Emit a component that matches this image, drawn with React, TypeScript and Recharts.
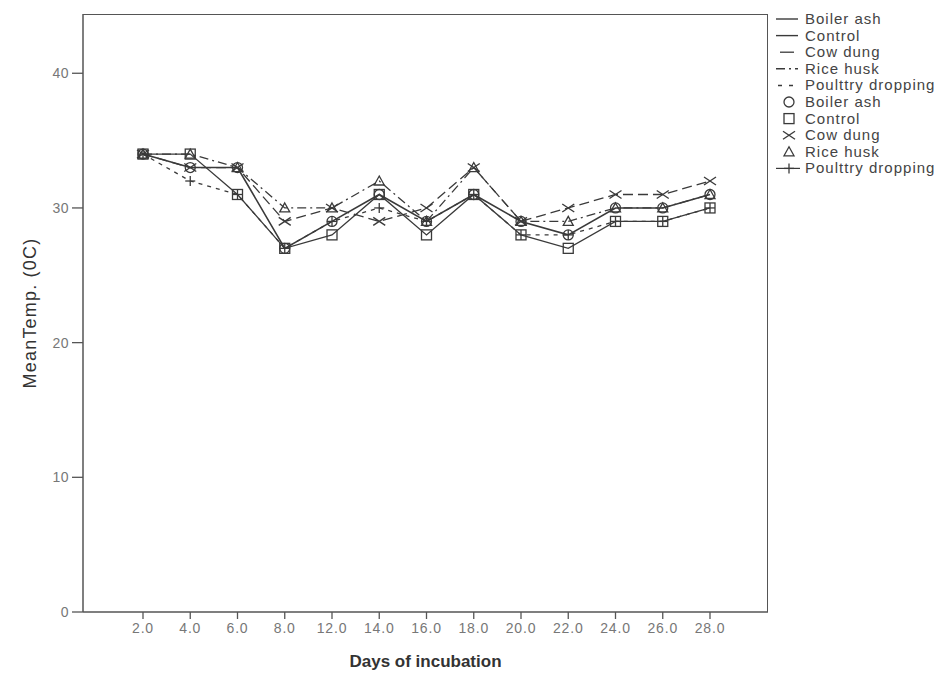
import React from 'react';
import { LineChart, Line, XAxis, YAxis } from 'recharts';

const days = ['2.0', '4.0', '6.0', '8.0', '12.0', '14.0', '16.0', '18.0', '20.0', '22.0', '24.0', '26.0', '28.0'];
const boilerAsh = [34, 33, 33, 27, 29, 31, 29, 31, 29, 28, 30, 30, 31];
const control = [34, 34, 31, 27, 28, 31, 28, 31, 28, 27, 29, 29, 30];
const cowDung = [34, 33, 33, 29, 30, 29, 30, 33, 29, 30, 31, 31, 32];
const riceHusk = [34, 34, 33, 30, 30, 32, 29, 33, 29, 29, 30, 30, 31];
const poultry = [34, 32, 31, 27, 29, 30, 29, 31, 28, 28, 29, 29, 30];
const yTicks = [0, 10, 20, 30, 40];

const lineNames = ['Boiler ash', 'Control', 'Cow dung', 'Rice husk', 'Poulttry dropping'];
const markerNames = ['Boiler ash', 'Control', 'Cow dung', 'Rice husk', 'Poulttry dropping'];

const data = days.map((d, i) => ({
  day: d,
  boilerAsh: boilerAsh[i],
  control: control[i],
  cowDung: cowDung[i],
  riceHusk: riceHusk[i],
  poultry: poultry[i],
}));

const INK = '#3a3a3a';
const FONT = '"Liberation Sans", Arial, sans-serif';

type Shape = 'circle' | 'square' | 'x' | 'triangle' | 'plus';

function Marker({ shape, cx, cy }: { shape: Shape; cx: number; cy: number }) {
  const s = 5;
  const common = { stroke: INK, strokeWidth: 1.3, fill: 'none' };
  if (shape === 'circle') return <circle cx={cx} cy={cy} r={s} {...common} />;
  if (shape === 'square') return <rect x={cx - s} y={cy - s} width={2 * s} height={2 * s} {...common} />;
  if (shape === 'x')
    return (
      <g {...common}>
        <line x1={cx - 6} y1={cy - 4} x2={cx + 6} y2={cy + 4} />
        <line x1={cx - 6} y1={cy + 4} x2={cx + 6} y2={cy - 4} />
      </g>
    );
  if (shape === 'triangle')
    return <polygon points={`${cx},${cy - 5} ${cx + 5},${cy + 4} ${cx - 5},${cy + 4}`} {...common} />;
  return (
    <g {...common}>
      <line x1={cx - 5} y1={cy} x2={cx + 5} y2={cy} />
      <line x1={cx} y1={cy - 5} x2={cx} y2={cy + 5} />
    </g>
  );
}

const makeDot = (shape: Shape) => (props: any) => {
  const { cx, cy, index } = props;
  if (cx == null || cy == null) return <g key={`${shape}-${index}`} />;
  return (
    <g key={`${shape}-${index}`}>
      <Marker shape={shape} cx={cx} cy={cy} />
    </g>
  );
};

const series: { key: string; dash?: string; width: number; shape: Shape }[] = [
  { key: 'boilerAsh', width: 1.6, shape: 'circle' },
  { key: 'control', width: 1.3, shape: 'square' },
  { key: 'cowDung', dash: '10 5', width: 1.3, shape: 'x' },
  { key: 'riceHusk', dash: '9 4 2 4', width: 1.3, shape: 'triangle' },
  { key: 'poultry', dash: '4 5', width: 1.3, shape: 'plus' },
];

const lineDashes = [undefined, undefined, '10 5', '9 4 2 4', '4 5'];
const shapes: Shape[] = ['circle', 'square', 'x', 'triangle', 'plus'];

function LegendBox() {
  const rowY = (i: number) => 11 + i * 16.6;
  return (
    <svg width={190} height={180} style={{ position: 'absolute', left: 760, top: 0 }}>
      {lineNames.map((n, i) => (
        <g key={`l${i}`}>
          {i === 2 ? (
            <line x1={12} y1={rowY(i)} x2={26} y2={rowY(i)} stroke={INK} strokeWidth={1.3} />
          ) : i === 4 ? (
            <line x1={10} y1={rowY(i)} x2={30} y2={rowY(i)} stroke={INK} strokeWidth={1.5} strokeDasharray="4 7" />
          ) : (
            <line x1={8} y1={rowY(i)} x2={30} y2={rowY(i)} stroke={INK} strokeWidth={1.4} strokeDasharray={lineDashes[i]} />
          )}
          <text x={37} y={rowY(i) + 5} fontSize={15} fill="#444" fontFamily={FONT} letterSpacing={1}>
            {n}
          </text>
        </g>
      ))}
      {markerNames.map((n, j) => {
        const i = j + 5;
        return (
          <g key={`m${j}`}>
            {j === 4 && <line x1={8} y1={rowY(i)} x2={32} y2={rowY(i)} stroke={INK} strokeWidth={1.2} />}
            <Marker shape={shapes[j]} cx={21} cy={rowY(i)} />
            <text x={37} y={rowY(i) + 5} fontSize={15} fill="#444" fontFamily={FONT} letterSpacing={1}>
              {n}
            </text>
          </g>
        );
      })}
    </svg>
  );
}

export default function App() {
  return (
    <div style={{ position: 'relative', width: 943, height: 672, background: '#fff', fontFamily: FONT }}>
      <LineChart width={943} height={672} data={data} margin={{ top: 6, right: 183, left: 0, bottom: 0 }}>
        <XAxis
          dataKey="day"
          padding={{ left: 60, right: 58 }}
          height={68}
          tickSize={7}
          tickMargin={4}
          axisLine={{ stroke: '#555', strokeWidth: 1.5 }}
          tickLine={{ stroke: '#555', strokeWidth: 1.3 }}
          tick={{ fill: '#777', fontSize: 14, fontFamily: FONT, letterSpacing: 0.8 }}
          interval={0}
          label={{
            content: (p: any) => {
              const vb = p.viewBox;
              return (
                <text
                  x={vb.x + vb.width / 2}
                  y={vb.y + 55}
                  textAnchor="middle"
                  fontSize={17}
                  fontWeight="bold"
                  fill="#333"
                  fontFamily={FONT}
                >
                  Days of incubation
                </text>
              );
            },
          }}
        />
        <YAxis
          domain={[0, 44.4]}
          ticks={yTicks}
          width={75}
          tickSize={11}
          tickMargin={3}
          axisLine={{ stroke: '#555', strokeWidth: 1.5 }}
          tickLine={{ stroke: '#555', strokeWidth: 1.3 }}
          tick={{ fill: '#777', fontSize: 14, fontFamily: FONT, letterSpacing: 0.5 }}
          label={{
            content: (p: any) => {
              const vb = p.viewBox;
              const cx = 22;
              const cy = vb.y + vb.height / 2;
              return (
                <text
                  x={cx}
                  y={cy}
                  transform={`rotate(-90 ${cx} ${cy})`}
                  textAnchor="middle"
                  dominantBaseline="central"
                  fontSize={18}
                  fill="#333"
                  fontFamily={FONT}
                  letterSpacing={1.2}
                >
                  MeanTemp. (0C)
                </text>
              );
            },
          }}
        />
        {series.map((s) => (
          <Line
            key={s.key}
            dataKey={s.key}
            type="linear"
            stroke={INK}
            strokeWidth={s.width}
            strokeDasharray={s.dash}
            dot={makeDot(s.shape)}
            activeDot={false}
            isAnimationActive={false}
          />
        ))}
      </LineChart>
      <div
        style={{
          position: 'absolute',
          left: 75,
          top: 6,
          width: 685,
          height: 598,
          boxSizing: 'border-box',
          borderTop: '1.5px solid #555',
          borderRight: '1.5px solid #555',
          pointerEvents: 'none',
        }}
      />
      <LegendBox />
    </div>
  );
}
